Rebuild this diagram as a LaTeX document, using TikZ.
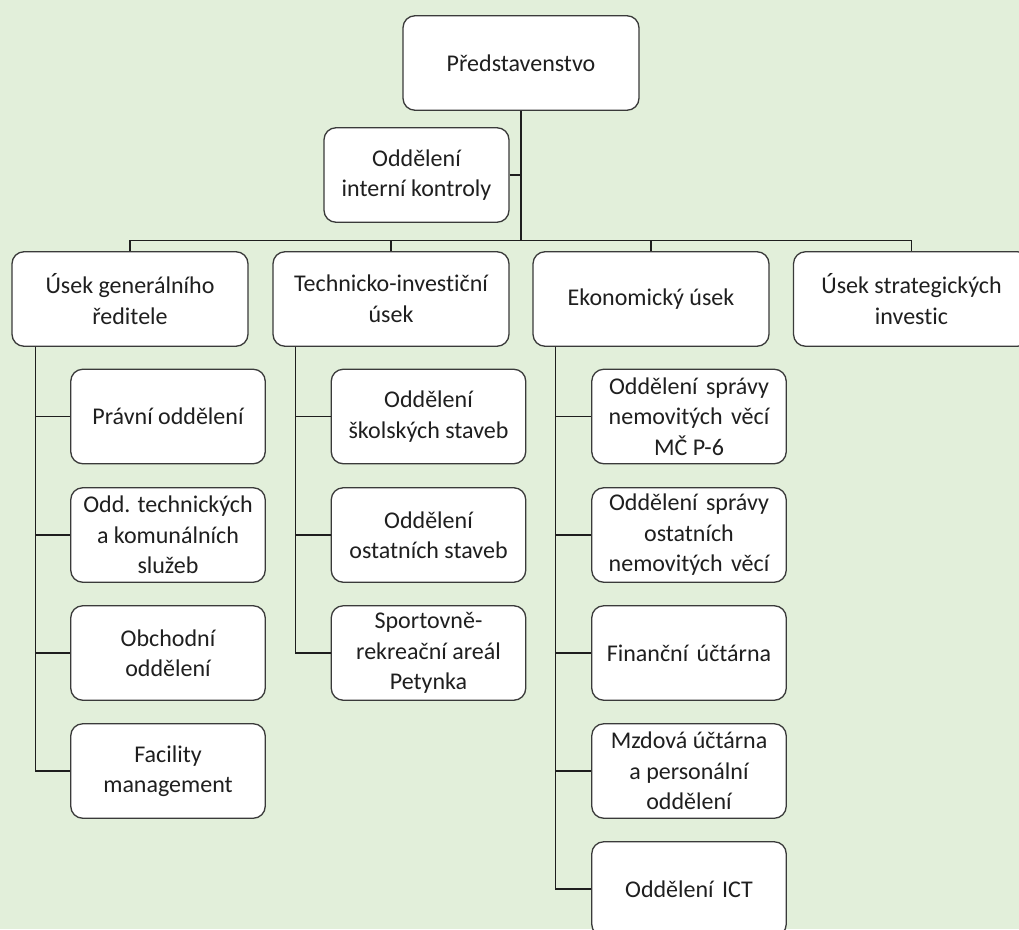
\documentclass[tikz,border=0pt]{standalone}
\usepackage{fontspec}
\setmainfont[Ligatures={NoCommon,NoContextual}]{Carlito}
\definecolor{bg}{HTML}{E2EFDA}
\definecolor{bord}{HTML}{3A3A3A}
\definecolor{txt}{HTML}{1F1F1F}
\definecolor{conn}{HTML}{1E1E1E}
\newcommand{\tI}{t\kern0pt i}
\tikzset{
  orgbox/.style={draw=bord, fill=white, rounded corners=12, line width=1.3,
    minimum height=94.5, align=center, inner sep=0, text=txt,
    font=\fontsize{24}{30.5}\selectfont},
  wbig/.style={orgbox, minimum width=236},
  wsmall/.style={orgbox, minimum width=194.5},
  link/.style={draw=conn, line width=1.4}
}
\begin{document}
\begin{tikzpicture}[x=1pt,y=-1pt]
\useasboundingbox (0,0) rectangle (1019,929);
\clip (0,0) rectangle (1019,929);
\fill[bg] (0,0) rectangle (1019,929);

\coordinate (bus) at (521,240.5);

\node[wbig] (pred) at (521,63) {Představenstvo};
\node[orgbox, minimum width=185] (oik) at (416.5,175) {Oddělení\\interní kontroly};

\node[wbig] (ug) at (130,299) {Úsek generálního\\ředitele};
\node[wbig] (ti) at (391,299) {Technicko-inves\tI ční\\úsek};
\node[wbig] (eu) at (651,299) {Ekonomický úsek};
\node[wbig] (us) at (911.5,299) {Úsek strategických\\inves\tI c};

\node[wsmall] (ug1) at (168,416.5) {Právní oddělení};
\node[wsmall] (ug2) at (168,535) {Odd. technických\\a komunálních\\služeb};
\node[wsmall] (ug3) at (168,653) {Obchodní\\oddělení};
\node[wsmall] (ug4) at (168,771) {Facility\\management};

\node[wsmall] (ti1) at (428.5,416.5) {Oddělení\\školských staveb};
\node[wsmall] (ti2) at (428.5,535) {Oddělení\\ostatních staveb};
\node[wsmall] (ti3) at (428.5,653) {Sportovně-\\rekreační areál\\Petynka};

\node[wsmall] (eu1) at (689,416.5) {Oddělení\hspace{3pt} správy\\nemovitých\hspace{3pt} věcí\\MČ P-6};
\node[wsmall] (eu2) at (689,535) {Oddělení\hspace{3pt} správy\\ostatních\\nemovitých\hspace{3pt} věcí};
\node[wsmall] (eu3) at (689,653) {Finanční\hspace{3pt} účtárna};
\node[wsmall] (eu4) at (689,771) {Mzdová účtárna\\a personální\\oddělení};
\node[wsmall] (eu5) at (689,889) {Oddělení\hspace{3pt} ICT};

\draw[link] (pred.south) -- (bus);
\draw[link] (oik.east) -- (oik.east -| pred.south);
\draw[link] (ug.north) |- (bus) -| (us.north);
\draw[link] (ti.north) -- (ti.north |- bus);
\draw[link] (eu.north) -- (eu.north |- bus);

\foreach \c in {ug1,ug2,ug3,ug4}
  \draw[link] ([xshift=24]ug.south west) |- (\c.west);
\foreach \c in {ti1,ti2,ti3}
  \draw[link] ([xshift=23]ti.south west) |- (\c.west);
\foreach \c in {eu1,eu2,eu3,eu4,eu5}
  \draw[link] ([xshift=23]eu.south west) |- (\c.west);
\end{tikzpicture}
\end{document}
